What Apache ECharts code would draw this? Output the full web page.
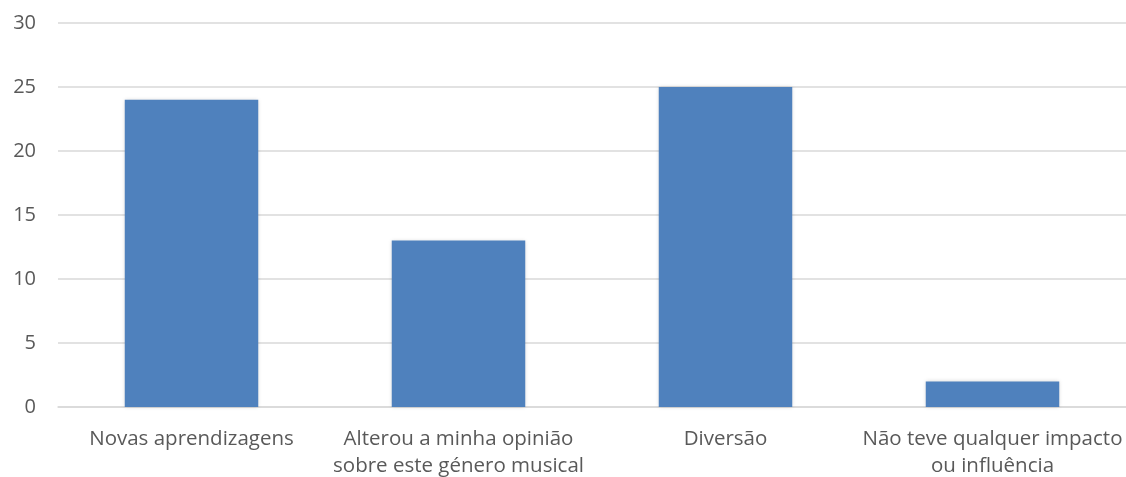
<!DOCTYPE html>
<html>
<head>
<meta charset="utf-8">
<script src="https://cdn.jsdelivr.net/npm/echarts@6/dist/echarts.min.js"></script>
<style>
  html, body { margin: 0; padding: 0; background: #fff; }
  #chart { width: 1126px; height: 477px; }
</style>
</head>
<body>
<div id="chart"></div>
<script>
var categories = [
    'Novas aprendizagens',
    'Alterou a minha opinião\nsobre este género musical',
    'Diversão',
    'Não teve qualquer impacto\nou influência'
];
var values = [24, 13, 25, 2];
var yTicks = { min: 0, max: 30, interval: 5 };

var chart = echarts.init(document.getElementById('chart'));

chart.setOption({
    animation: false,
    textStyle: {
        fontFamily: 'Open Sans'
    },
    grid: {
        left: 58,
        right: 0,
        top: 23,
        bottom: 70,
        outerBoundsMode: 'none',
        containLabel: false
    },
    xAxis: {
        type: 'category',
        data: categories,
        axisTick: { show: false },
        axisLine: {
            lineStyle: { color: '#d9d9d9', width: 1.5 }
        },
        axisLabel: {
            color: '#595959',
            fontSize: 20.5,
            lineHeight: 27,
            margin: 19,
            interval: 0
        }
    },
    yAxis: {
        type: 'value',
        min: yTicks.min,
        max: yTicks.max,
        interval: yTicks.interval,
        axisLine: { show: false },
        axisTick: { show: false },
        splitLine: {
            lineStyle: { color: '#d9d9d9', width: 1.5 }
        },
        axisLabel: {
            color: '#595959',
            fontSize: 20,
            margin: 22
        }
    },
    series: [{
        type: 'bar',
        data: values,
        barWidth: '50%',
        itemStyle: {
            color: '#4f81bd',
            shadowColor: 'rgba(0,0,0,0.15)',
            shadowBlur: 4
        }
    }]
});
</script>
</body>
</html>
